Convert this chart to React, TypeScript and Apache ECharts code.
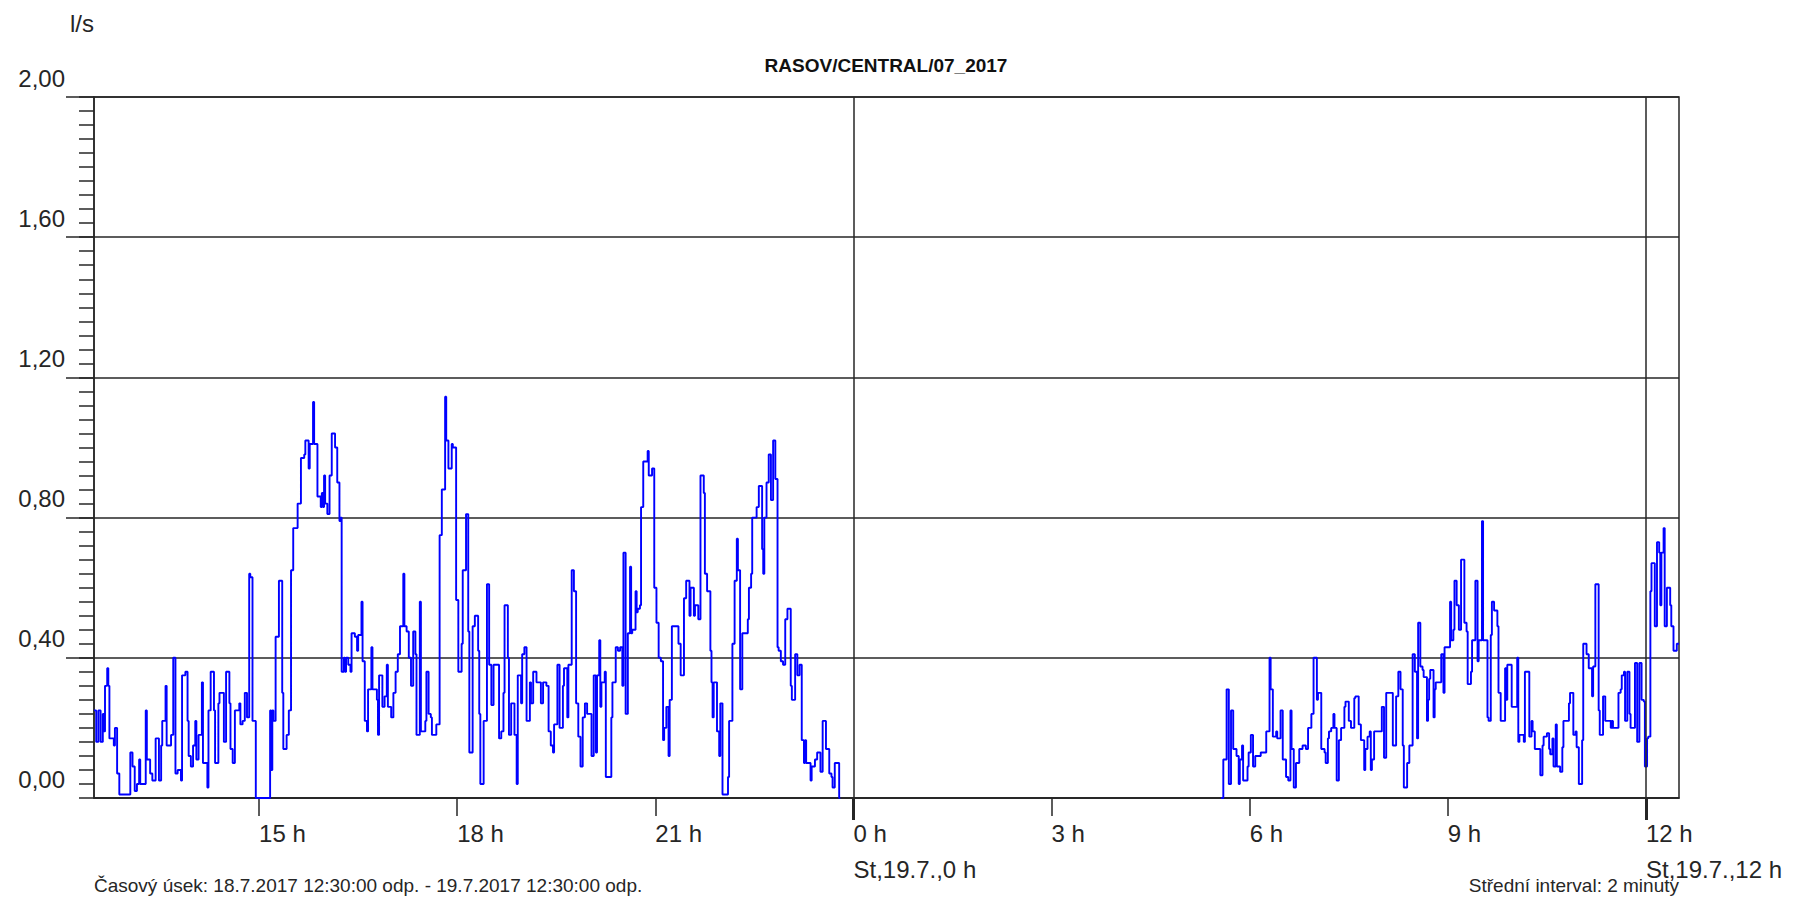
import React, { useEffect, useRef } from 'react';
import * as echarts from 'echarts';

const chartTitle = 'RASOV/CENTRAL/07_2017';
const unitLabel = 'l/s';
const periodText = 'Časový úsek: 18.7.2017 12:30:00 odp. - 19.7.2017 12:30:00 odp.';
const intervalText = 'Střední interval: 2 minuty';

// x = minutes since 18.7.2017 12:30
const tickMinutes = [150, 330, 510, 690, 870, 1050, 1230, 1410];
const tickLabels = ['15 h', '18 h', '21 h', '0 h', '3 h', '6 h', '9 h', '12 h'];
const dayLabels = ['', '', '', 'St,19.7.,0 h', '', '', '', 'St,19.7.,12 h'];
const dayMarkerMinutes = [690, 1410];
const yMajorTicks = [0.4, 0.8, 1.2, 1.6, 2.0];

const flowAfternoon: [number, number][] = [
  [0, .25], [2, .16], [4, .25], [6, .16], [8, .24], [9, .19], [10, .32], [12, .37], [13, .32], [14, .17],
  [18, .15], [19, .2], [21, .07], [23, .01], [33, .13], [35, .09], [37, .02], [39, .04], [41, .11], [42, .04],
  [47, .25], [48, .11], [51, .07], [53, .05], [56, .17], [59, .05], [61, .15], [62, .22], [65, .32], [66, .15],
  [70, .18], [72, .4], [74, .07], [76, .08], [79, .05], [80, .35], [83, .36], [85, .22], [86, .12], [88, .09],
  [90, .15], [92, .22], [93, .11], [95, .18], [98, .33], [99, .1], [103, .03], [104, .25], [106, .36], [109, .25],
  [110, .1], [113, .27], [114, .3], [118, .16], [120, .36], [123, .27], [124, .14], [126, .1], [128, .25], [132, .27],
  [133, .21], [135, .22], [137, .3], [139, .23], [141, .64], [142, .63], [144, .22], [147, 0], [160, .25], [161, .08],
  [162, .25], [163, .22], [165, .46], [168, .62], [171, .3], [172, .14], [175, .18], [177, .25], [179, .65], [181, .77],
  [183, .77], [185, .84], [188, .97], [191, .98], [192, 1.02], [195, .94], [196, 1.01], [199, 1.13], [200, 1.01], [203, .86],
  [206, .83], [207, .87], [208, .83], [209, .92], [210, .84], [212, .81], [214, .92], [216, 1.04], [219, 1.0], [221, .9],
  [223, .79], [224, .8], [225, .36],
];

const flowEvening: [number, number][] = [
  [227, .4], [228, .36], [229, .4], [231, .38], [233, .36], [234, .47], [237, .46], [239, .42], [240, .465], [243, .56],
  [244, .39], [246, .22], [248, .19], [249, .31], [252, .43], [253, .31], [257, .28], [258, .18], [259, .35], [262, .26],
  [264, .29], [266, .38], [267, .26], [270, .23], [272, .3], [274, .36], [276, .41], [278, .49], [281, .64], [282, .49],
  [284, .475], [286, .4], [288, .32], [290, .475], [292, .41], [293, .18], [296, .56], [297, .19], [301, .22], [302, .36],
  [304, .24], [306, .23], [307, .18], [311, .21], [314, .75], [316, .88], [319, 1.145], [320, 1.02], [322, .94], [325, 1.01],
  [326, 1.0], [329, .565], [331, .36], [334, .44], [335, .65], [338, .81], [340, .475], [341, .13], [344, .49], [346, .52],
  [349, .42], [350, .24], [351, .04], [354, .22], [357, .61], [359, .38], [361, .265], [363, .38], [366, .38], [368, .17],
  [370, .19], [372, .3], [373, .55], [376, .4], [377, .18], [379, .27], [382, .18], [384, .04], [385, .35], [388, .27],
  [389, .41], [391, .43], [393, .22], [396, .33], [397, .27], [399, .36], [402, .33], [406, .27], [408, .33], [411, .32],
  [413, .19], [415, .15], [417, .13], [418, .21], [421, .38], [423, .2], [426, .32], [427, .37], [430, .23], [431, .38],
  [434, .65], [436, .59], [438, .27], [440, .175], [442, .09], [444, .23], [446, .27], [448, .24], [450, .24], [452, .12],
];

const flowNight: [number, number][] = [
  [454, .35], [456, .13], [457, .35], [459, .45], [460, .26], [461, .33], [464, .36], [465, .06], [470, .23], [471, .33],
  [474, .43], [476, .42], [478, .43], [480, .32], [481, .7], [483, .24], [485, .47], [487, .66], [488, .47], [489, .48],
  [492, .59], [493, .53], [494, .54], [496, .55], [497, .83], [499, .96], [502, .96], [503, .99], [504, .92], [507, .94],
  [509, .6], [511, .5], [513, .4], [515, .39], [517, .165], [518, .2], [520, .26], [522, .12], [523, .28], [525, .49],
  [531, .44], [533, .35], [536, .57], [538, .62], [541, .52], [542, .6], [545, .52], [546, .55], [549, .51], [551, .92],
  [554, .87], [555, .64], [557, .59], [560, .42], [561, .33], [562, .23], [563, .33], [566, .19], [568, .12], [569, .27],
  [571, .01], [576, .06], [577, .22], [580, .44], [582, .62], [584, .74], [585, .65], [587, .31], [589, .47], [594, .51],
  [595, .6], [597, .64], [598, .8], [602, .83], [604, .89], [607, .71], [608, .64], [609, .8], [611, .9], [613, .98],
  [615, .85], [617, 1.02], [619, .91], [621, .43], [622, .42], [624, .39], [626, .38], [628, .51], [630, .54], [633, .32],
  [634, .28], [637, .41], [639, .35], [641, .38], [643, .165], [645, .1], [646, .165], [647, .1], [651, .05], [652, .09],
  [655, .11], [657, .13], [660, .075], [662, .22], [665, .14], [668, .07], [670, .06], [671, .03], [673, .1], [677, 0],
];

const flowMorning: [number, number][] = [
  [1024, 0], [1026, .11], [1029, .31], [1031, .04], [1033, .25], [1035, .14], [1038, .12], [1040, .04], [1041, .11], [1043, .15],
  [1044, .05], [1048, .09], [1049, .13], [1051, .18], [1053, .09], [1055, .12], [1060, .13], [1065, .19], [1068, .4], [1069, .31],
  [1071, .175], [1074, .19], [1075, .17], [1078, .25], [1080, .11], [1083, .06], [1085, .05], [1087, .25], [1088, .14], [1090, .03],
  [1092, .1], [1095, .14], [1098, .15], [1101, .14], [1103, .2], [1106, .24], [1108, .4], [1111, .28], [1112, .3], [1115, .14],
  [1118, .13], [1119, .1], [1121, .17], [1122, .19], [1124, .2], [1126, .24], [1127, .2], [1129, .05], [1131, .165], [1133, .2],
  [1136, .26], [1137, .275], [1140, .22], [1142, .2], [1145, .285], [1146, .29], [1149, .21], [1151, .165], [1154, .08], [1155, .14],
  [1157, .175], [1159, .19], [1160, .08], [1161, .11], [1163, .19], [1170, .26], [1172, .115], [1174, .3], [1180, .15], [1183, .29],
  [1185, .36], [1187, .31], [1189, .15], [1190, .03], [1193, .1], [1195, .15], [1198, .41], [1200, .36], [1202, .17], [1203, .5],
  [1205, .375], [1207, .365], [1208, .345], [1211, .22], [1212, .28], [1213, .34], [1214, .365], [1217, .23], [1218, .31], [1219, .33],
  [1224, .41], [1226, .3], [1227, .43], [1232, .56], [1233, .45], [1235, .48], [1236, .62], [1238, .55], [1240, .48], [1242, .68],
  [1245, .5], [1247, .475], [1248, .325], [1251, .36], [1252, .45], [1255, .62], [1257, .39], [1258, .45], [1261, .79], [1262, .45],
  [1266, .23], [1267, .22], [1269, .465], [1270, .56], [1272, .535], [1275, .49], [1276, .3], [1278, .22], [1282, .37], [1283, .28],
  [1284, .38], [1288, .26], [1293, .4], [1294, .16], [1295, .18], [1299, .16], [1300, .36], [1304, .175], [1306, .22], [1307, .19],
  [1309, .14], [1314, .065], [1316, .15], [1317, .175], [1320, .185], [1322, .14], [1323, .125], [1325, .17], [1326, .09], [1328, .21],
  [1329, .09], [1332, .075], [1334, .145], [1335, .22], [1340, .27], [1341, .3], [1344, .18], [1346, .19], [1347, .145], [1349, .04],
  [1352, .165], [1353, .44], [1356, .41], [1358, .37], [1361, .29], [1362, .375], [1364, .61], [1367, .25], [1368, .18], [1371, .29],
  [1373, .22], [1378, .2], [1379, .22], [1380, .2], [1385, .3], [1387, .31], [1388, .35], [1390, .36], [1391, .22], [1393, .36],
  [1395, .24], [1396, .2], [1400, .385], [1402, .16], [1404, .385], [1406, .28], [1408, .275], [1409, .09], [1411, .17], [1412, .175],
  [1414, .59], [1415, .67], [1418, .49], [1420, .73], [1422, .7], [1423, .55], [1424, .7], [1426, .77], [1427, .49], [1429, .6],
  [1432, .55], [1433, .49], [1435, .42], [1438, .44], [1440, .44],
];

const FONT = '"Liberation Sans", Arial, sans-serif';
const INK = '#262626';

export default function App() {
  const ref = useRef<HTMLDivElement>(null);
  useEffect(() => {
    if (!ref.current) return;
    const chart = echarts.init(ref.current, undefined, { renderer: 'svg' });
    const data: any[] = [
      ...flowAfternoon,
      ...flowEvening,
      ...flowNight,
      [678, '-'],
      ...flowMorning,
    ];
    const lineStyle = { color: INK, width: 1.5 };
    chart.setOption({
      animation: false,
      backgroundColor: '#ffffff',
      grid: {
        left: 94, right: 116, top: 97, bottom: 100,
        show: true, borderColor: INK, borderWidth: 1.5, backgroundColor: 'transparent',
      },
      xAxis: [
        {
          type: 'value', min: 0, max: 1440,
          axisLine: { show: true, lineStyle },
          axisTick: { show: true, customValues: tickMinutes, length: 18, lineStyle },
          axisLabel: {
            show: true,
            customValues: tickMinutes,
            align: 'left',
            margin: 17,
            fontFamily: FONT,
            fontSize: 24,
            lineHeight: 36,
            color: INK,
            formatter: (v: number) => {
              const i = tickMinutes.indexOf(Math.round(v));
              if (i < 0) return '';
              return dayLabels[i] ? `${tickLabels[i]}\n${dayLabels[i]}` : tickLabels[i];
            },
          },
          splitLine: { show: false },
        },
        {
          type: 'value', min: 0, max: 1440, position: 'bottom',
          axisLine: { show: false },
          axisTick: { show: true, customValues: dayMarkerMinutes, length: 22, lineStyle: { color: INK, width: 3 } },
          axisLabel: { show: false },
          splitLine: { show: false },
        },
      ],
      yAxis: [
        {
          type: 'value', min: 0, max: 2, interval: 0.4,
          axisLine: { show: true, lineStyle },
          axisTick: { show: true, length: 15, lineStyle },
          minorTick: { show: true, splitNumber: 10, length: 15, lineStyle },
          axisLabel: {
            show: true,
            margin: 29,
            fontFamily: FONT,
            fontSize: 24,
            color: INK,
            verticalAlign: 'bottom',
            lineHeight: 38,
            formatter: (v: number) => v.toFixed(2).replace('.', ','),
          },
          splitLine: { show: true, lineStyle },
        },
        {
          type: 'value', min: 0, max: 2, interval: 0.4, position: 'left',
          axisLine: { show: false },
          axisTick: { show: true, length: 28, customValues: yMajorTicks, lineStyle },
          axisLabel: { show: false },
          splitLine: { show: false },
        },
      ],
      graphic: [
        { type: 'text', x: 94, y: 23, style: { text: unitLabel, fontFamily: FONT, fontSize: 24, fill: INK, align: 'right', verticalAlign: 'middle' } },
        { type: 'text', x: 886, y: 65, style: { text: chartTitle, fontFamily: FONT, fontSize: 19, fontWeight: 'bold', fill: '#111', align: 'center', verticalAlign: 'middle' } },
        { type: 'text', x: 94, y: 885, style: { text: periodText, fontFamily: FONT, fontSize: 19, fill: INK, align: 'left', verticalAlign: 'middle' } },
        { type: 'text', x: 1679, y: 885, style: { text: intervalText, fontFamily: FONT, fontSize: 19, fill: INK, align: 'right', verticalAlign: 'middle' } },
      ],
      series: [
        {
          type: 'line',
          xAxisIndex: 0,
          yAxisIndex: 0,
          step: 'end',
          symbol: 'none',
          connectNulls: false,
          lineStyle: { color: '#0000ff', width: 1.9 },
          data,
          markLine: {
            silent: true,
            symbol: ['none', 'none'],
            label: { show: false },
            lineStyle: { color: INK, width: 1.5, type: 'solid' },
            data: dayMarkerMinutes.map((m) => ({ xAxis: m })),
          },
        },
      ],
    });
    return () => chart.dispose();
  }, []);
  return (
    <div
      ref={ref}
      style={{ position: 'fixed', left: 0, top: 0, width: 1795, height: 898, background: '#fff' }}
    />
  );
}
